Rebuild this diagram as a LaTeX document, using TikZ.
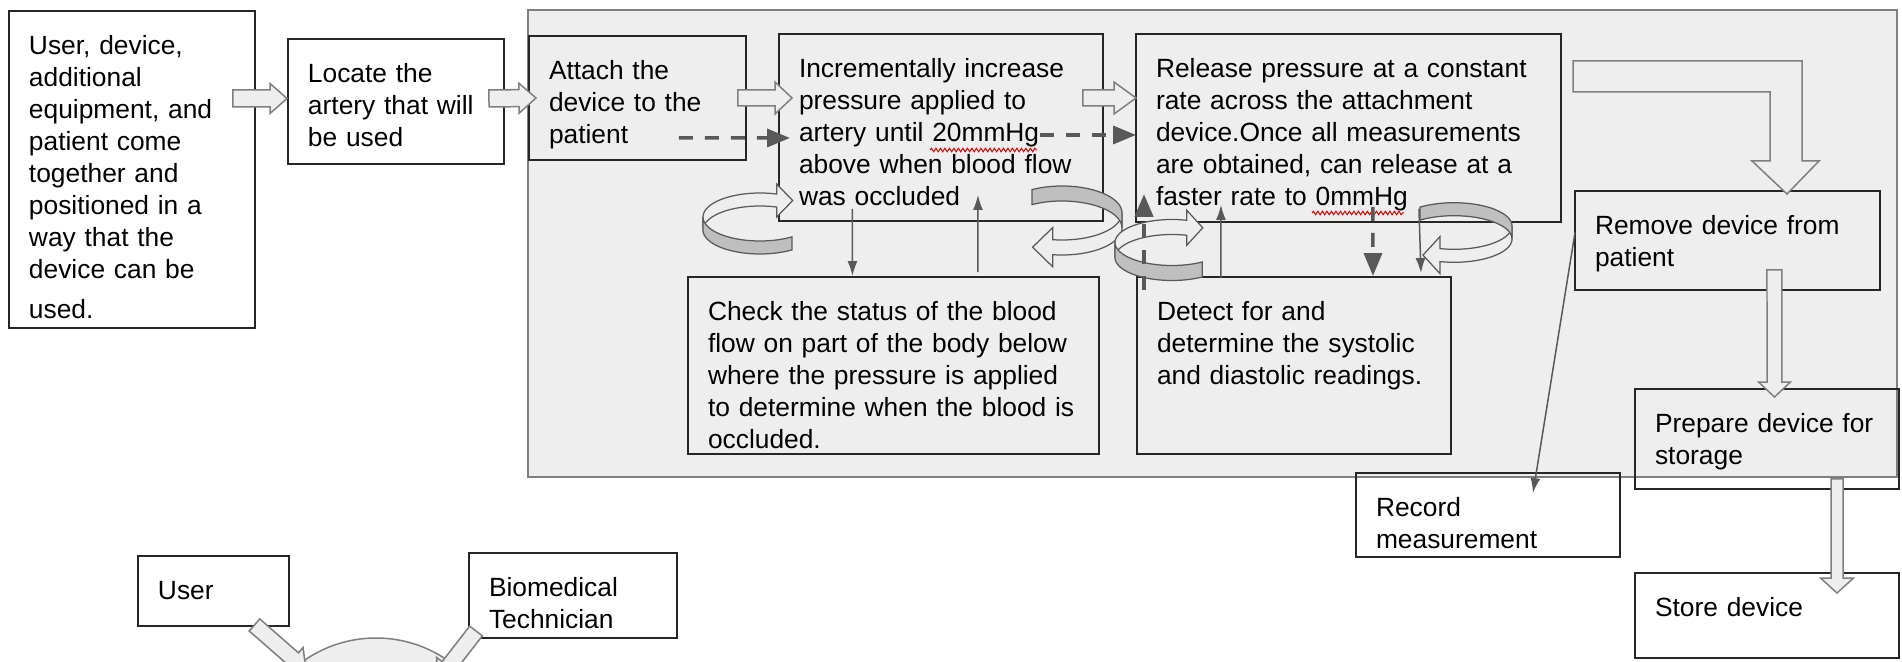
\documentclass[tikz,border=0pt]{standalone}
\usepackage{fontspec}
\setmainfont{Liberation Sans}
\usepackage{tikz}
\usetikzlibrary{calc,arrows.meta,decorations.pathmorphing}

\definecolor{panel}{HTML}{EEEEEE}
\definecolor{edge}{HTML}{262626}
\definecolor{rim}{HTML}{7F7F7F}
\definecolor{linkgray}{HTML}{595959}
\definecolor{band}{HTML}{BFBFBF}

\tikzset{
  card/.style={draw=edge, line width=0.04cm, anchor=north west, align=left,
    inner xsep=0.4cm, inner ysep=0pt, text height=0.88cm,
    font=\fontsize{15}{18.14}\selectfont},
  hollow/.style={draw=rim, fill=panel, line width=0.03cm},
  flow/.style={draw=linkgray, line width=0.03cm, -{Latex[length=0.3cm, width=0.2cm]}},
  dashflow/.style={draw=linkgray, line width=0.07cm, dash pattern=on 0.28cm off 0.24cm,
    -{Triangle[length=0.46cm, width=0.36cm]}},
  ringfront/.style={draw=linkgray, fill=band, line width=0.025cm},
  ringback/.style={draw=linkgray, fill=panel, line width=0.025cm},
  wavy/.style={draw=red!85!black, line width=0.02cm, decorate,
    decoration={snake, amplitude=0.035cm, segment length=0.09cm}}
}

% tail, tip, shaft half width, head half width, head length
\newcommand{\hollowarrow}[5]{%
  \coordinate (hb) at ($(#2)!#5!(#1)$);
  \draw[hollow] ($(#1)!#3!90:(#2)$) -- ($(hb)!#3!90:(#2)$) -- ($(hb)!#4!90:(#2)$) -- (#2)
    -- ($(hb)!#4!-90:(#2)$) -- ($(hb)!#3!-90:(#2)$) -- ($(#1)!#3!-90:(#2)$) -- cycle;}

% centre, rotation, rx, ry, band, front end, back end, head flare, head length
\newcommand{\ringarrow}[9]{%
  \begin{scope}[shift={(#1)}, rotate=#2]
    \draw[ringback] plot[domain=180:#7, samples=40] ({#3*cos(\x)}, {-#4*sin(\x)})
      -- ++(0,-#8) -- ({#3*cos(#7)+#9}, {-#4*sin(#7)+#5/2})
      -- ({#3*cos(#7)}, {-#4*sin(#7)+#5+#8})
      -- plot[domain=#7:180, samples=40] ({#3*cos(\x)}, {-#4*sin(\x)+#5}) -- cycle;
    \draw[ringfront] plot[domain=180:#6, samples=40] ({#3*cos(\x)}, {-#4*sin(\x)})
      -- plot[domain=#6:180, samples=40] ({#3*cos(\x)}, {-#4*sin(\x)+#5}) -- cycle;
  \end{scope}}

\begin{document}
\begin{tikzpicture}[x=0.02cm, y=-0.02cm]
  \useasboundingbox (0,0) rectangle (1902,662);
  \clip (0,0) rectangle (1902,662);
  \fill[white] (0,0) rectangle (1902,662);
  % shaded panel behind the measuring steps
  \draw[fill=panel, draw=rim, line width=0.03cm] (528,10) rectangle (1897,477);

  \node[card, text width=4.12cm, text depth=5.46cm] (intro) at (8,10)
    {User, device,\\ additional\\ equipment, and\\ patient come\\ together and\\
     positioned in a\\ way that the\\ device can be\\[0.18cm] used.};
  \node[card, text width=3.52cm, text depth=1.62cm] (locate) at (287,38)
    {Locate the\\ artery that will\\ be used};
  \node[card, text width=3.54cm, text depth=1.60cm] (attach) at (528,35)
    {Attach the\\ device to the\\ patient};
  \node[card, text width=5.68cm, text depth=2.86cm] (incr) at (778,33)
    {Incrementally increase\\ pressure applied to\\ artery until 20mmHg\\
     above when blood flow\\ was occluded};
  \node[card, text width=7.70cm, text depth=2.88cm] (release) at (1135,33)
    {Release pressure at a constant\\ rate across the attachment\\
     device.Once all measurements\\ are obtained, can release at a\\
     faster rate to 0mmHg};
  \node[card, text width=7.42cm, text depth=2.66cm] (check) at (687,276)
    {Check the status of the blood\\ flow on part of the body below\\
     where the pressure is applied\\ to determine when the blood is\\ occluded.};
  \node[card, text width=5.48cm, text depth=2.66cm] (detect) at (1136,276)
    {Detect for and\\ determine the systolic\\ and diastolic readings.};
  \node[card, text width=5.30cm, text depth=1.10cm] (remove) at (1574,190)
    {Remove device from\\ patient};
  \node[card, text width=4.48cm, text depth=1.12cm] (prepare) at (1634,388)
    {Prepare device for\\ storage};
  \node[card, text width=4.48cm, text depth=0.80cm] (record) at (1355,472)
    {Record\\ measurement};
  \node[card, text width=4.48cm, text depth=0.82cm] (store) at (1634,572)
    {Store device};
  \node[card, text width=2.22cm, text depth=0.52cm] (user) at (137,555) {User};
  \node[card, text width=3.36cm, text depth=0.82cm] (biomed) at (468,552)
    {Biomedical\\ Technician};

  % spelling marks under the units
  \draw[wavy] ($(incr.north west)+(152,117)$) -- ++(107,0);
  \draw[wavy] ($(release.north west)+(177,180)$) -- ++(92,0);

  % hollow arrows along the steps
  \coordinate (a1) at ($(intro.east |- locate.west)+(-23,-3)$);
  \coordinate (b1) at ($(locate.west)+(0,-3)$);
  \hollowarrow{a1}{b1}{0.17cm}{0.30cm}{0.34cm}
  \coordinate (a2) at ($(locate.east)+(-16,-3)$);
  \coordinate (b2) at ($(attach.west)+(8,0)$);
  \hollowarrow{a2}{b2}{0.17cm}{0.30cm}{0.34cm}
  \coordinate (a3) at ($(attach.east)+(-9,0)$);
  \coordinate (b3) at ($(incr.west |- attach.west)+(14,0)$);
  \hollowarrow{a3}{b3}{0.16cm}{0.32cm}{0.34cm}
  \coordinate (a4) at ($(incr.east |- attach.west)+(-21,0)$);
  \coordinate (b4) at ($(release.west |- attach.west)+(1,0)$);
  \hollowarrow{a4}{b4}{0.16cm}{0.32cm}{0.44cm}
  \coordinate (a5) at ($(remove.south)+(47,-21)$);
  \coordinate (b5) at ($(prepare.north)+(7.5,9)$);
  \hollowarrow{a5}{b5}{0.15cm}{0.32cm}{0.30cm}
  \coordinate (a6) at ($(prepare.south)+(70,-11)$);
  \coordinate (b6) at ($(store.north)+(70,21)$);
  \hollowarrow{a6}{b6}{0.12cm}{0.33cm}{0.30cm}
  \coordinate (ltip) at ($(remove.north)+(59.5,4)$);
  \draw[hollow] (1573,61) -- (1802,61) -- (1802,161) -- (1819,161) -- (ltip)
    -- (1752,161) -- (1770,161) -- (1770,92) -- (1573,92) -- cycle;

  % circular arrows
  \ringarrow{760,217}{0}{57}{24}{13}{304}{73}{10}{16}
  \ringarrow{1062,228}{180}{60}{27}{15}{300}{81}{12}{20}
  \ringarrow{1172,242.5}{0}{57}{23}{15}{302}{75}{10}{16}
  \ringarrow{1454,239}{180}{58}{23.3}{13}{306}{76}{12}{17}

  % thin and dashed links
  \draw[flow] ($(incr.south)+(-88.5,-13)$) -- ($(check.north)+(-41,0)$);
  \draw[flow] ($(check.north)+(84.5,-4)$) -- ($(incr.south)+(37,-27)$);
  \draw[flow] ($(detect.north)+(-73,2)$) -- ($(release.south)+(-127.5,-18)$);
  \draw[flow] ($(release.south)+(70.5,-14)$) -- ($(detect.north)+(127,-3)$);
  \draw[flow] ($(remove.west)+(1,-8)$) -- ($(record.north)+(45,21)$);
  \draw[dashflow] ($(attach.east)+(-68,40)$) -- ($(incr.west)+(12,10.5)$);
  \draw[dashflow] ($(incr.east)+(-64,7.5)$) -- ($(release.west)+(1,7)$);
  \draw[dashflow, line width=0.09cm] ($(detect.north west)+(8,14)$) -- ($(release.south west)+(9,-29)$);
  \draw[dashflow] ($(release.south)+(24.5,-16)$) -- ($(detect.north)+(79,0)$);

  % roles at the bottom
  \draw[hollow] (376,764) circle[radius=2.52cm];
  \coordinate (a7) at ($(user.south)+(41,-2)$);
  \coordinate (b7) at (306,670);
  \hollowarrow{a7}{b7}{0.16cm}{0.30cm}{0.34cm}
  \coordinate (a8) at ($(biomed.south west)+(8,-8)$);
  \coordinate (b8) at (438,680);
  \hollowarrow{a8}{b8}{0.16cm}{0.30cm}{0.34cm}
\end{tikzpicture}
\end{document}
